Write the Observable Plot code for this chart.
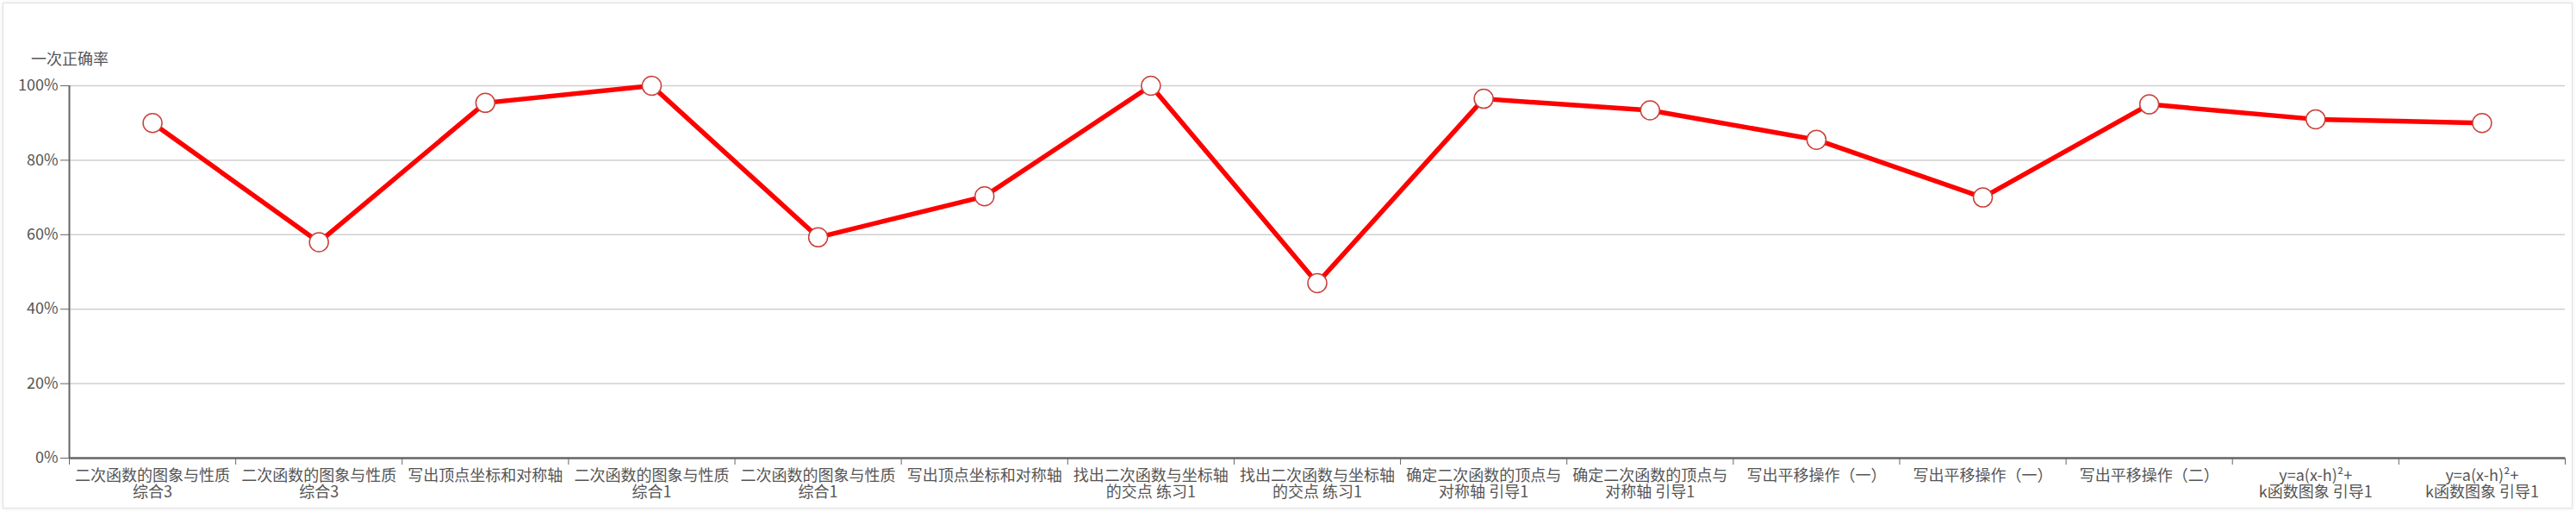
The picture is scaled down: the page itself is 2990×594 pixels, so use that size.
<!DOCTYPE html>
<html><head><meta charset="utf-8">
<script src="https://cdn.jsdelivr.net/npm/d3@7"></script>
<script src="https://cdn.jsdelivr.net/npm/@observablehq/plot@0.6"></script>
<style>
body{margin:0;background:#fff;width:2990px;height:594px;overflow:hidden;font-family:"Noto Sans CJK SC","Noto Sans",sans-serif;}
#card{position:absolute;left:3px;top:3px;width:2983px;height:587px;border:1px solid #e2e2e2;box-shadow:0 0 4px rgba(0,0,0,0.10);box-sizing:border-box;}
#title{position:absolute;left:36px;top:55px;font-size:18px;color:#555;line-height:24px;}
#chart{position:absolute;left:0;top:80px;}
</style></head>
<body><div id="card"></div><div id="title">一次正确率</div><div id="chart"></div>
<script>
const categories = [
  "二次函数的图象与性质\n综合3",
  "二次函数的图象与性质\n综合3",
  "写出顶点坐标和对称轴",
  "二次函数的图象与性质\n综合1",
  "二次函数的图象与性质\n综合1",
  "写出顶点坐标和对称轴",
  "找出二次函数与坐标轴\n的交点 练习1",
  "找出二次函数与坐标轴\n的交点 练习1",
  "确定二次函数的顶点与\n对称轴 引导1",
  "确定二次函数的顶点与\n对称轴 引导1",
  "写出平移操作（一）",
  "写出平移操作（一）",
  "写出平移操作（二）",
  "y=a(x-h)²+\nk函数图象 引导1",
  "y=a(x-h)²+\nk函数图象 引导1"
];
const values = [90, 58, 95.4, 100, 59.3, 70.3, 100, 47, 96.5, 93.4, 85.5, 70, 95, 91, 90];
const yTicks = [0, 20, 40, 60, 80, 100];

const data = values.map((v, i) => ({x: i + 0.5, v}));
const boundaries = d3.range(categories.length + 1);
const centers = categories.map((c, i) => i + 0.5);

const chart = Plot.plot({
  width: 2990,
  height: 514,
  marginLeft: 80,
  marginRight: 13,
  marginTop: 19,
  marginBottom: 63,
  style: {fontFamily: '"Noto Sans CJK SC","Noto Sans",sans-serif', background: "transparent"},
  x: {type: "linear", domain: [0, categories.length]},
  y: {domain: [0, 100]},
  marks: [
    Plot.gridY(yTicks, {stroke: "#cfcfcf", strokeOpacity: 1, strokeWidth: 1.5}),
    Plot.axisY(yTicks, {tickFormat: d => d + "%", tickSize: 10, tickPadding: 3, fontSize: 18, stroke: "#666", fill: "#555", label: null}),
    Plot.ruleX([0], {stroke: "#666", strokeWidth: 2}),
    Plot.ruleY([0], {stroke: "#666", strokeWidth: 2.5}),
    Plot.axisX(boundaries, {tickSize: 8, tickFormat: () => "", stroke: "#666", label: null}),
    Plot.axisX(centers, {tickSize: 0, tickPadding: 13, tickFormat: d => categories[Math.floor(d)], fontSize: 18, fill: "#555", label: null, lineHeight: 1.05}),
    Plot.line(data, {x: "x", y: "v", stroke: "#ff0000", strokeWidth: 5.5}),
    Plot.dot(data, {x: "x", y: "v", r: 11, fill: "white", stroke: "#c9403a", strokeWidth: 1.5})
  ]
});
document.getElementById("chart").appendChild(chart);
</script>
</body></html>
